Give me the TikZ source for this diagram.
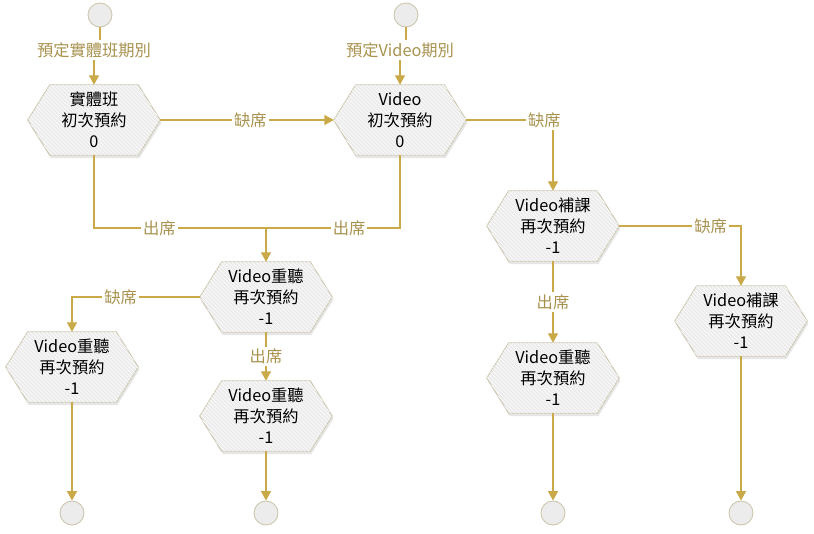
\documentclass[tikz,border=0pt]{standalone}
\usepackage{fontspec}
\setmainfont{Noto Sans CJK TC}
\usetikzlibrary{arrows.meta,backgrounds,patterns}
\definecolor{gold}{RGB}{201,169,72}
\definecolor{lblc}{RGB}{168,146,78}
\definecolor{hexfill}{RGB}{236,236,236}
\definecolor{hexline}{RGB}{206,199,176}
\tikzset{
 hexnode/.style={minimum width=99pt, minimum height=52.5pt, inner sep=0pt, align=center, font=\fontsize{12.2}{15.75}\selectfont},
 lbl/.style={fill=white, text=lblc, inner sep=1.5pt, font=\fontsize{12.2}{14}\selectfont},
 conn/.style={draw=gold, line width=0.9pt},
 arr/.style={conn, -{Triangle[length=7pt,width=7.5pt]}},
 endc/.style={circle, minimum size=18pt, inner sep=0pt, draw=hexline, fill=hexfill, line width=0.7pt},
 hexshape/.style={fill=hexfill, draw=hexline, line width=0.7pt},
 hexhatch/.style={pattern=north west lines, pattern color=white},
 hexshadow/.style={fill=black!22, opacity=0.45, transform canvas={shift={(0.8pt,-2.2pt)}}},
}
\begin{document}
\begin{tikzpicture}[x=0.75pt,y=-0.75pt]
\useasboundingbox (0,0) rectangle (814,534);

% start / end circles
\node[endc] (c1) at (100,15) {};
\node[endc] (c2) at (406,15) {};
\node[endc] (e1) at (72,513) {};
\node[endc] (e2) at (266,513) {};
\node[endc] (e3) at (553,513) {};
\node[endc] (e4) at (741,513) {};

% hexagon nodes
\node[hexnode] (h1) at (94,120) {實體班\\初次預約\\0};
\node[hexnode] (h2) at (400,120) {Video\\初次預約\\0};
\node[hexnode] (h3) at (553,226) {Video補課\\再次預約\\-1};
\node[hexnode] (h4) at (741,321) {Video補課\\再次預約\\-1};
\node[hexnode] (h5) at (266,297) {Video重聽\\再次預約\\-1};
\node[hexnode] (h6) at (72,367) {Video重聽\\再次預約\\-1};
\node[hexnode] (h7) at (266,416) {Video重聽\\再次預約\\-1};
\node[hexnode] (h8) at (553,378) {Video重聽\\再次預約\\-1};

\begin{scope}[on background layer]
\foreach \n in {h1,h2,h3,h4,h5,h6,h7,h8}{
  \path[hexshadow] (\n.west) -- ([xshift=16.5pt]\n.north west) -- ([xshift=-16.5pt]\n.north east) -- (\n.east) -- ([xshift=-16.5pt]\n.south east) -- ([xshift=16.5pt]\n.south west) -- cycle;
  \path[hexshape] (\n.west) -- ([xshift=16.5pt]\n.north west) -- ([xshift=-16.5pt]\n.north east) -- (\n.east) -- ([xshift=-16.5pt]\n.south east) -- ([xshift=16.5pt]\n.south west) -- cycle;
  \path[hexhatch] (\n.west) -- ([xshift=16.5pt]\n.north west) -- ([xshift=-16.5pt]\n.north east) -- (\n.east) -- ([xshift=-16.5pt]\n.south east) -- ([xshift=16.5pt]\n.south west) -- cycle;
}
\end{scope}

% entry labels
\node[lbl] (l1) at (94,50) {預定實體班期別};
\node[lbl] (l2) at (400,50) {預定Video期別};
\draw[conn] (c1.south) -- (c1.south |- l1.north);
\draw[arr] (l1.south) -- (h1.north);
\draw[conn] (c2.south) -- (c2.south |- l2.north);
\draw[arr] (l2.south) -- (h2.north);

% connectors
\coordinate (j) at (266,228);
\draw[arr] (h1.east) -- node[lbl, pos=0.52] {缺席} (h2.west);
\draw[arr] (h2.east) -| node[lbl, pos=0.45] {缺席} (h3.north);
\draw[conn] (h1.south) |- node[lbl, pos=0.69] {出席} (j);
\draw[conn] (h2.south) |- node[lbl, pos=0.69] {出席} (j);
\draw[arr] (j) -- (h5.north);
\draw[arr] (h3.east) -| node[lbl, pos=0.375] {缺席} (h4.north);
\draw[arr] (h3.south) -- node[lbl] {出席} (h8.north);
\draw[arr] (h5.west) -| node[lbl, pos=0.31] {缺席} (h6.north);
\draw[arr] (h5.south) -- node[lbl] {出席} (h7.north);
\draw[arr] (h6.south) -- (e1.north);
\draw[arr] (h7.south) -- (e2.north);
\draw[arr] (h8.south) -- (e3.north);
\draw[arr] (h4.south) -- (e4.north);
\end{tikzpicture}
\end{document}
